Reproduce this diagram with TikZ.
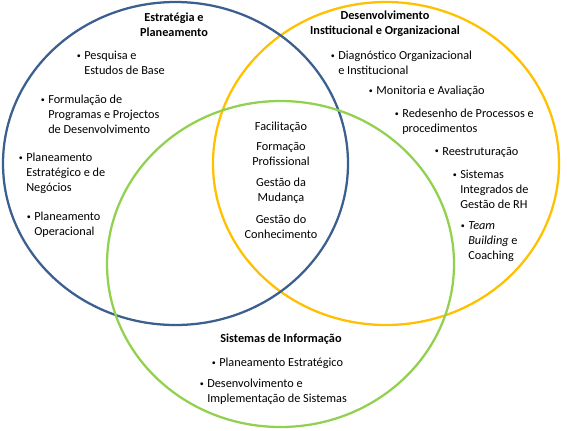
\documentclass[tikz,border=0pt]{standalone}
\usepackage{fontspec}
\setmainfont{Carlito}
\usetikzlibrary{positioning}

\definecolor{setblue}{HTML}{3B5F8F}
\definecolor{setgold}{HTML}{FFC000}
\definecolor{setgreen}{HTML}{92D050}

\newcommand{\bull}{\makebox[5.5pt][l]{\raisebox{0.9pt}{\fontsize{6}{6}\selectfont\textbullet}}}
\newcommand{\hang}{\hspace*{5.5pt}}

\begin{document}
\begin{tikzpicture}[
            x=0.75pt, y=-0.75pt,
            font=\fontsize{9.2}{11.2}\selectfont,
            ring/.style={line width=1.7pt},
            title/.style={align=center, inner sep=0pt, font=\fontsize{9.2}{11.2}\selectfont\bfseries},
            item/.style={align=left, anchor=west, inner sep=0pt},
            core/.style={align=center, inner sep=0pt}
        ]
        \useasboundingbox (0,0) rectangle (567,430);

        % the three sets
        \draw [ring, setgold] (386,163.5) ellipse [x radius=173, y radius=161.5];
        \draw [ring, setblue] (175.5,163.5) ellipse [x radius=172.5, y radius=161.5];
        \draw [ring, setgreen] (280.5,264) ellipse [x radius=173.5, y radius=163];

        % Estrategia e Planeamento
        \node (strat) [title] at (174,24.5) {Estratégia e\\Planeamento};
        \node (pesq) [item] at (76.7,62.5) {\bull Pesquisa e\\\hang Estudos de Base};
        \node (form) [item] at (40.7,114) {\bull Formulação de\\\hang Programas e Projectos\\\hang de Desenvolvimento};
        \node (pest1) [item] at (18.7,173) {\bull Planeamento\\\hang Estratégico e de\\\hang Negócios};
        \node (oper) [item] at (26.7,224.5) {\bull Planeamento\\\hang Operacional};

        % Desenvolvimento Institucional e Organizacional
        \node (desinst) [title] at (385,23.5) {Desenvolvimento\\Institucional e Organizacional};
        \node (diag) [item] at (330.7,62.5) {\bull Diagnóstico Organizacional\\\hang e Institucional};
        \node (moni) [item] at (368.7,91) {\bull Monitoria e Avaliação};
        \node (rede) [item] at (394.7,121.5) {\bull Redesenho de Processos e\\\hang procedimentos};
        \node (rees) [item] at (434.7,152) {\bull Reestruturação};
        \node (sirh) [item] at (452.7,189) {\bull Sistemas\\\hang Integrados de\\\hang Gestão de RH};
        \node (team) [item] at (460.7,242) {\bull \textit{Team}\\\hang \textit{Building} e\\\hang Coaching};

        % Sistemas de Informacao
        \node (sisinf) [title] at (281,339) {Sistemas de Informação};
        \node (pest2) [item] at (211.7,363) {\bull Planeamento Estratégico};
        \node (impl) [item] at (199.7,392) {\bull Desenvolvimento e\\\hang Implementação de Sistemas};

        % common core
        \node (facil) [core] at (281,127) {Facilitação};
        \node (forma) [core] at (281,153.5) {Formação\\Profissional};
        \node (mudan) [core] at (281,191) {Gestão da\\Mudança};
        \node (conhe) [core] at (281,226.5) {Gestão do\\Conhecimento};
\end{tikzpicture}
\end{document}
